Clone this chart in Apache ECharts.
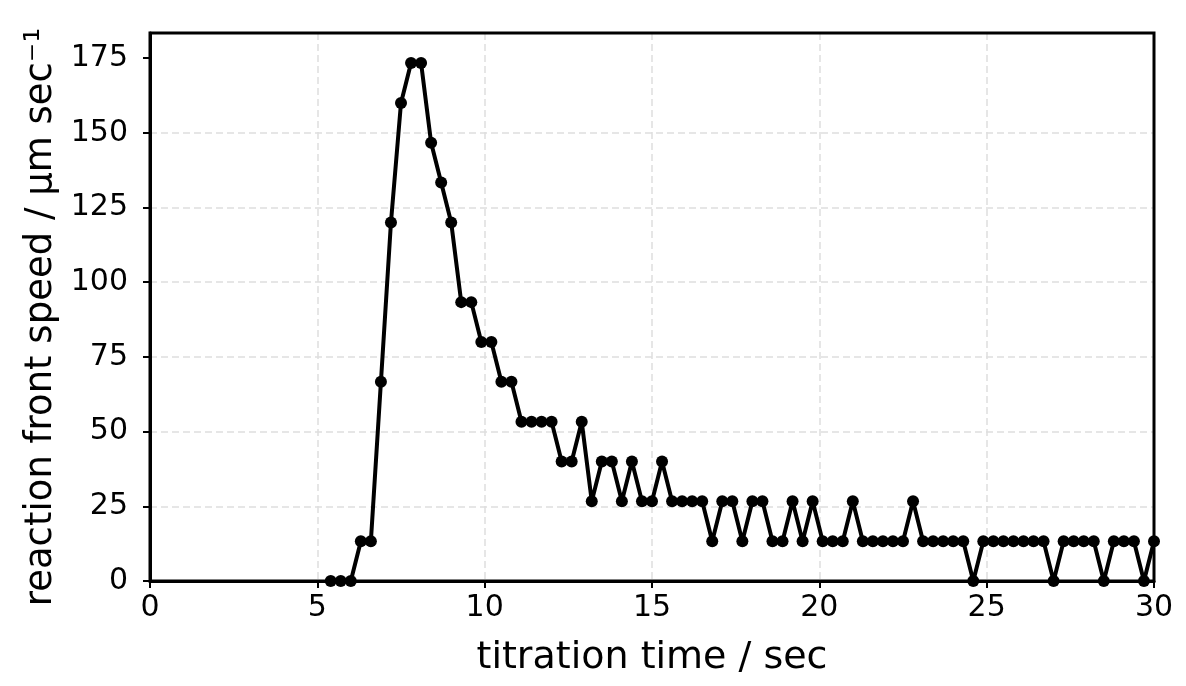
<!DOCTYPE html>
<html>
<head>
<meta charset="utf-8">
<script src="https://cdn.jsdelivr.net/npm/echarts@6/dist/echarts.min.js"></script>
<style>html,body{margin:0;padding:0;background:#fff}#c{width:1186px;height:686px}</style>
</head>
<body>
<div id="c"></div>
<script>
const times = [5.4,5.7,6.0,6.3,6.6,6.9,7.2,7.5,7.8,8.1,8.4,8.7,9.0,9.3,9.6,9.9,10.2,10.5,10.8,11.1,
  11.4,11.7,12.0,12.3,12.6,12.9,13.2,13.5,13.8,14.1,14.4,14.7,15.0,15.3,15.6,15.9,16.2,16.5,16.8,17.1,
  17.4,17.7,18.0,18.3,18.6,18.9,19.2,19.5,19.8,20.1,20.4,20.7,21.0,21.3,21.6,21.9,22.2,22.5,22.8,23.1,
  23.4,23.7,24.0,24.3,24.6,24.9,25.2,25.5,25.8,26.1,26.4,26.7,27.0,27.3,27.6,27.9,28.2,28.5,28.8,29.1,
  29.4,29.7,30.0];
const speeds = [0,0,0,13.33,13.33,66.67,120,160,173.33,173.33,146.67,133.33,120,93.33,93.33,80,80,66.67,66.67,53.33,
  53.33,53.33,53.33,40,40,53.33,26.67,40,40,26.67,40,26.67,26.67,40,26.67,26.67,26.67,26.67,13.33,26.67,
  26.67,13.33,26.67,26.67,13.33,13.33,26.67,13.33,26.67,13.33,13.33,13.33,26.67,13.33,13.33,13.33,13.33,13.33,26.67,13.33,
  13.33,13.33,13.33,13.33,0,13.33,13.33,13.33,13.33,13.33,13.33,13.33,0,13.33,13.33,13.33,13.33,0,13.33,13.33,
  13.33,0,13.33];
const xTicks = [0,5,10,15,20,25,30];
const yTicks = [0,25,50,75,100,125,150,175];
const xTitle = 'titration time / sec';
const yTitle = 'reaction front speed / μm sec⁻¹';

const font = 'DejaVu Sans';
const chart = echarts.init(document.getElementById('c'), null, {renderer: 'canvas'});
chart.setOption({
  animation: false,
  backgroundColor: '#fff',
  grid: {left: 150, right: 32, top: 33, bottom: 105, show: true, borderColor: '#000', borderWidth: 3, backgroundColor: 'transparent', z: 5},
  xAxis: {
    type: 'value', min: 0, max: 30, interval: 5,
    name: xTitle, nameLocation: 'middle', nameGap: 58,
    nameTextStyle: {fontFamily: font, fontSize: 38, color: '#000'},
    axisLine: {show: true, lineStyle: {color: '#000', width: 3}},
    axisTick: {show: true, length: 7, lineStyle: {color: '#000', width: 2}, customValues: xTicks},
    axisLabel: {fontFamily: font, fontSize: 30, color: '#000', margin: 12, customValues: xTicks},
    splitLine: {show: true, showMinLine: false, showMaxLine: false, lineStyle: {color: '#dedede', width: 1.5, type: [7, 4]}}
  },
  yAxis: {
    type: 'value', min: 0, max: 183.4, interval: 25,
    name: yTitle, nameLocation: 'middle', nameGap: 89,
    nameTextStyle: {fontFamily: font, fontSize: 37, color: '#000', padding: [0, 20, 0, 0]},
    axisLine: {show: true, lineStyle: {color: '#000', width: 3}},
    axisTick: {show: true, length: 7, lineStyle: {color: '#000', width: 2}, customValues: yTicks},
    axisLabel: {fontFamily: font, fontSize: 30, color: '#000', margin: 22, customValues: yTicks},
    splitLine: {show: true, showMinLine: false, showMaxLine: false, lineStyle: {color: '#dedede', width: 1.5, type: [7, 4]}}
  },
  series: [{
    type: 'line',
    data: times.map((t, i) => [t, speeds[i]]),
    symbol: 'circle', symbolSize: 12, showAllSymbol: true,
    lineStyle: {color: '#000', width: 4},
    itemStyle: {color: '#000'},
    clip: true, z: 3
  }]
});
</script>
</body>
</html>
